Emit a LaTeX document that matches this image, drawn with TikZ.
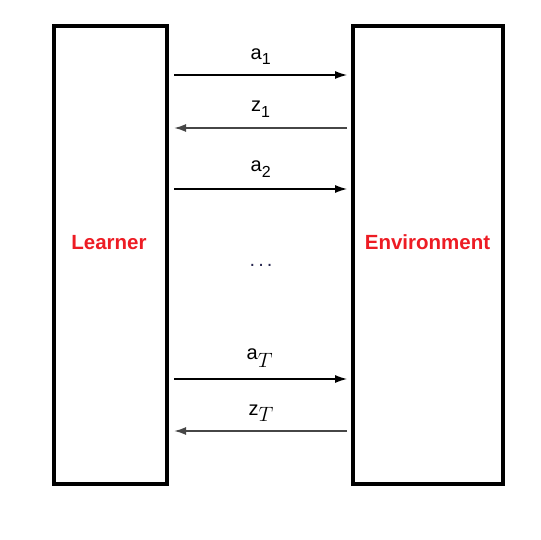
\documentclass[tikz,border=0pt]{standalone}
\usepackage{fontspec}
\setmainfont{Liberation Sans}
\usetikzlibrary{arrows.meta}
\definecolor{lred}{RGB}{237,28,36}
\definecolor{dgray}{RGB}{70,70,70}
\definecolor{dotc}{RGB}{40,40,80}
\begin{document}
\begin{tikzpicture}[x=1pt,y=-1pt,
  box/.style={draw=black, line width=4pt, minimum width=#1, minimum height=458pt, inner sep=0pt},
  title/.style={text=lred, font=\fontsize{20.5}{24}\selectfont\bfseries, inner sep=0pt},
  lab/.style={anchor=base west, inner sep=0pt, font=\fontsize{20}{24}\selectfont},
  fwd/.style={line width=1.1pt, -{Latex[length=12pt,width=8pt]}},
  bwd/.style={line width=1.8pt, draw=dgray, -{Latex[length=12pt,width=8pt]}},
]
\useasboundingbox (0,0) rectangle (541,540);
\node[box=113pt] (L) at (110.5,255) {};
\node[box=150pt] (R) at (428,255) {};
\node[title] (Ltxt) at (109,242.5) {Learner};
\node[title] (Rtxt) at (427.5,242.5) {Environment};
% labels
\node[lab] (a1) at (250.5,60) {a\raisebox{-5pt}{\fontsize{16}{16}\selectfont 1}};
\node[lab] (z1) at (251,112) {z\raisebox{-5.5pt}{\fontsize{16}{16}\selectfont 1}};
\node[lab] (a2) at (250.5,172) {a\raisebox{-5.5pt}{\fontsize{16}{16}\selectfont 2}};
\node[lab, text=dotc] (dots) at (249.5,266) {.\hspace{3pt}.\hspace{3pt}.};
\node[lab] (aT) at (246.5,359) {a\raisebox{-8pt}{\fontsize{20}{20}\selectfont$T$}};
\node[lab] (zT) at (248.5,415) {z\raisebox{-6pt}{\fontsize{20}{20}\selectfont$T$}};
% arrow ends
\coordinate (s1) at (174,75);  \coordinate (e1) at (347,75);
\coordinate (s2) at (347,128); \coordinate (e2) at (174,128);
\coordinate (s3) at (174,189); \coordinate (e3) at (347,189);
\coordinate (s4) at (174,379); \coordinate (e4) at (347,379);
\coordinate (s5) at (347,431); \coordinate (e5) at (174,431);
\draw[fwd] (s1) -- (e1);
\draw[bwd] (s2) -- (e2);
\draw[fwd] (s3) -- (e3);
\draw[fwd] (s4) -- (e4);
\draw[bwd] (s5) -- (e5);
\end{tikzpicture}
\end{document}
